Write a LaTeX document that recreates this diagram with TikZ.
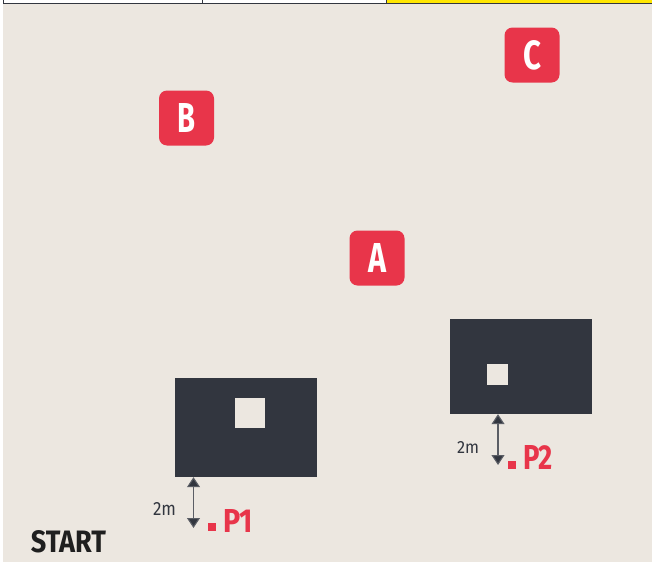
\documentclass[tikz,border=0pt]{standalone}
\usepackage{fontspec}
\setmainfont{Fira Sans}
\usetikzlibrary{arrows.meta}
\definecolor{bg}{HTML}{ECE7E0}
\definecolor{dark}{HTML}{32363F}
\definecolor{badge}{HTML}{E8354A}
\definecolor{topyellow}{HTML}{FFE600}
\newcommand{\fitbox}[3]{\resizebox{#1}{#2}{#3}}
\tikzset{
  badgebox/.style={fill=badge, rounded corners=8pt, minimum width=55pt, minimum height=55pt, inner sep=0pt, text=white},
  darkblock/.style={fill=dark, inner sep=0pt},
  hole/.style={fill=bg, inner sep=0pt},
  plain/.style={inner sep=0pt, outer sep=0pt},
  reddot/.style={fill=badge, inner sep=0pt, minimum width=8pt, minimum height=8pt},
  dimarrow/.style={draw=dark!80, line width=1.1pt, {Triangle[width=13pt,length=10pt,fill=dark]}-{Triangle[width=13pt,length=10pt,fill=dark]}},
  topcell/.style={draw=dark, line width=1pt}
}
\begin{document}
\begin{tikzpicture}[x=1pt,y=-1pt]
\useasboundingbox (0,0) rectangle (652,562);
\fill[bg] (0,0) rectangle (652,562);
\fill[white] (0,0) rectangle (3,562);
% top bar
\begin{scope}
\clip (0,0) rectangle (652,562);
\filldraw[topcell, fill=white] (3,-6) rectangle (202,3);
\filldraw[topcell, fill=white] (202,-6) rectangle (386,3);
\filldraw[topcell, fill=topyellow] (386,-6) rectangle (660,3);
\end{scope}
% badges
\node[badgebox] (B) at (186.5,118) {\fitbox{18pt}{29pt}{\bfseries B}};
\node[badgebox] (C) at (532,55) {\fitbox{18pt}{29pt}{\bfseries C}};
\node[badgebox] (A) at (377,258) {\fitbox{18pt}{29pt}{\bfseries A}};
% blocks
\node[darkblock, minimum width=142pt, minimum height=99pt] (box1) at (246,427.5) {};
\node[hole, minimum width=30pt, minimum height=30pt] (sq1) at (250,413) {};
\node[darkblock, minimum width=142pt, minimum height=95pt] (box2) at (521,366.5) {};
\node[hole, minimum width=21pt, minimum height=21pt] (sq2) at (497.5,374.5) {};
% dimension arrows
\coordinate (p1end) at (193.5,528);
\coordinate (p2end) at (498,465);
\draw[dimarrow] (p1end |- box1.south) -- (p1end);
\draw[dimarrow] (p2end |- box2.south) -- (p2end);
\node[plain, text=dark] (d1) at (164.5,508.5) {\fitbox{23pt}{13pt}{2m}};
\node[plain, text=dark] (d2) at (468,447.5) {\fitbox{22pt}{12pt}{2m}};
% points
\node[reddot] (dot1) at (212,527) {};
\node[plain, text=badge] (P1) at (238,520.5) {\fitbox{30pt}{23pt}{\bfseries P1}};
\node[reddot] (dot2) at (512,465) {};
\node[plain, text=badge] (P2) at (538,457) {\fitbox{30pt}{24pt}{\bfseries P2}};
% start
\node[plain, text=black!88] (start) at (68.5,541.7) {\fitbox{75pt}{22pt}{\bfseries START}};
\end{tikzpicture}
\end{document}
